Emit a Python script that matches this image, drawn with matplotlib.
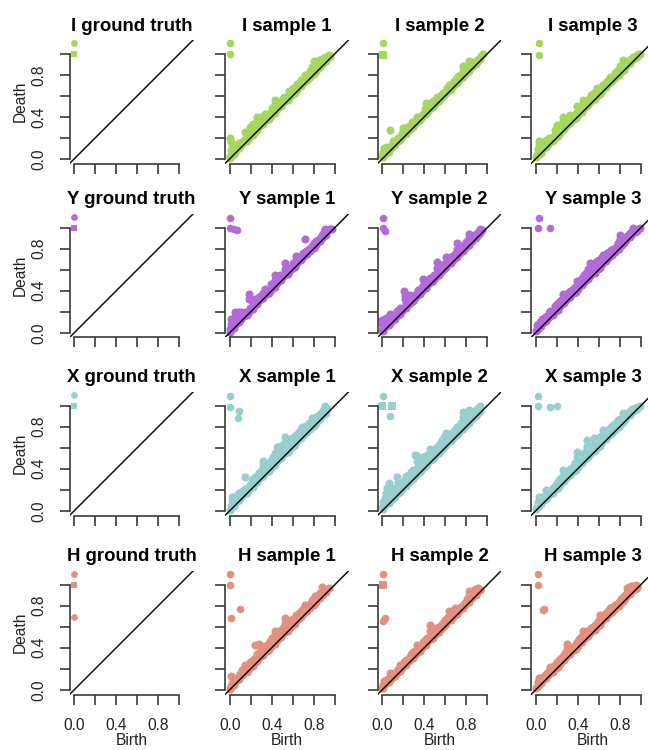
import matplotlib
matplotlib.use("Agg")
import matplotlib.pyplot as plt

plt.rcParams['font.family'] = ['Liberation Sans', 'DejaVu Sans']

# shapes (rows) and panel names (columns)
shapes = ['I', 'Y', 'X', 'H']
panels = ['ground truth', 'sample 1', 'sample 2', 'sample 3']
colors = ['#a6d65c', '#b46ad8', '#97cfcf', '#e3907f']

# ground truth diagrams: circles = essential class, squares = loop
gt_circ = {
    'I': [(0.00, 1.10)],
    'Y': [(0.00, 1.10)],
    'X': [(0.00, 1.10)],
    'H': [(0.00, 1.10), (0.00, 0.69)],
}
gt_sq = {
    'I': [(0.00, 1.00)],
    'Y': [(0.00, 1.00)],
    'X': [(0.00, 1.00)],
    'H': [(0.00, 1.00)],
}

# short-lived points hugging the diagonal (sample columns 1, 2, 3)
diag_1 = [(0.00, 0.01), (0.02, 0.04), (0.04, 0.05), (0.05, 0.07), (0.07, 0.09), (0.09, 0.10),
          (0.11, 0.13), (0.12, 0.15), (0.14, 0.16), (0.16, 0.17), (0.18, 0.20), (0.20, 0.23),
          (0.22, 0.23), (0.24, 0.26), (0.26, 0.27), (0.28, 0.31), (0.30, 0.32), (0.32, 0.33),
          (0.33, 0.36), (0.35, 0.37), (0.37, 0.38), (0.39, 0.41), (0.41, 0.44), (0.43, 0.44),
          (0.45, 0.47), (0.47, 0.49), (0.49, 0.50), (0.51, 0.54), (0.53, 0.55), (0.55, 0.56),
          (0.56, 0.58), (0.58, 0.61), (0.60, 0.62), (0.62, 0.63), (0.64, 0.66), (0.66, 0.69),
          (0.68, 0.69), (0.70, 0.72), (0.72, 0.74), (0.74, 0.75), (0.76, 0.78), (0.78, 0.81),
          (0.80, 0.81), (0.82, 0.84), (0.84, 0.86), (0.86, 0.87), (0.88, 0.90), (0.90, 0.92),
          (0.92, 0.93)]
diag_2 = [(0.01, 0.02), (0.02, 0.05), (0.04, 0.06), (0.06, 0.07), (0.08, 0.10), (0.10, 0.12),
          (0.12, 0.13), (0.13, 0.16), (0.15, 0.17), (0.17, 0.18), (0.19, 0.21), (0.21, 0.24),
          (0.23, 0.24), (0.25, 0.27), (0.27, 0.29), (0.29, 0.30), (0.31, 0.33), (0.32, 0.35),
          (0.34, 0.36), (0.36, 0.37), (0.38, 0.40), (0.40, 0.43), (0.42, 0.43), (0.44, 0.46),
          (0.46, 0.48), (0.48, 0.49), (0.50, 0.52), (0.52, 0.55), (0.54, 0.55), (0.56, 0.58),
          (0.58, 0.60), (0.59, 0.61), (0.61, 0.63), (0.63, 0.66), (0.65, 0.66), (0.67, 0.69),
          (0.69, 0.71), (0.71, 0.72), (0.73, 0.75), (0.75, 0.78), (0.77, 0.78), (0.79, 0.81),
          (0.81, 0.83), (0.83, 0.84), (0.85, 0.87), (0.87, 0.90), (0.89, 0.90), (0.91, 0.93),
          (0.93, 0.95)]
diag_3 = [(0.00, 0.02), (0.01, 0.03), (0.03, 0.05), (0.05, 0.06), (0.06, 0.09), (0.08, 0.10),
          (0.10, 0.11), (0.12, 0.14), (0.14, 0.16), (0.16, 0.17), (0.17, 0.20), (0.19, 0.21),
          (0.21, 0.22), (0.23, 0.25), (0.25, 0.28), (0.27, 0.28), (0.29, 0.31), (0.31, 0.33),
          (0.33, 0.34), (0.34, 0.37), (0.36, 0.38), (0.38, 0.39), (0.40, 0.42), (0.42, 0.45),
          (0.44, 0.45), (0.46, 0.48), (0.48, 0.50), (0.50, 0.51), (0.52, 0.54), (0.54, 0.57),
          (0.56, 0.57), (0.57, 0.60), (0.59, 0.61), (0.61, 0.62), (0.63, 0.65), (0.65, 0.68),
          (0.67, 0.68), (0.69, 0.71), (0.71, 0.73), (0.73, 0.74), (0.75, 0.77), (0.77, 0.80),
          (0.79, 0.80), (0.80, 0.83), (0.82, 0.84), (0.84, 0.85), (0.86, 0.88), (0.88, 0.91),
          (0.90, 0.91), (0.92, 0.94), (0.94, 0.96), (0.96, 0.97)]

# sample diagrams, (birth, death)
i_s1_circ = [(0.00, 1.10), (0.00, 1.00)]
i_s1_sq = []
i_s1 = [(0.00, 0.03), (0.01, 0.08), (0.00, 0.20), (0.01, 0.16), (0.02, 0.14), (0.04, 0.12),
        (0.05, 0.08), (0.07, 0.10), (0.09, 0.15), (0.10, 0.12), (0.12, 0.16), (0.14, 0.18),
        (0.15, 0.26), (0.16, 0.21), (0.18, 0.24), (0.19, 0.30), (0.21, 0.27), (0.22, 0.33),
        (0.24, 0.29), (0.26, 0.40), (0.26, 0.36), (0.27, 0.35), (0.29, 0.33), (0.30, 0.40),
        (0.32, 0.37), (0.34, 0.43), (0.36, 0.40), (0.38, 0.44), (0.40, 0.48), (0.41, 0.45),
        (0.43, 0.56), (0.43, 0.52), (0.44, 0.50), (0.46, 0.52), (0.47, 0.50), (0.49, 0.55),
        (0.51, 0.57), (0.52, 0.59), (0.54, 0.57), (0.56, 0.65), (0.56, 0.61), (0.57, 0.61),
        (0.59, 0.64), (0.60, 0.67), (0.62, 0.66), (0.64, 0.71), (0.66, 0.70), (0.68, 0.75),
        (0.70, 0.74), (0.72, 0.80), (0.73, 0.77), (0.75, 0.80), (0.76, 0.84), (0.78, 0.87),
        (0.79, 0.83), (0.80, 0.93), (0.80, 0.89), (0.82, 0.88), (0.83, 0.86), (0.85, 0.94),
        (0.86, 0.90), (0.88, 0.95), (0.89, 0.92), (0.91, 0.97), (0.92, 0.95), (0.94, 0.99),
        (0.95, 0.97)]

i_s2_circ = [(0.01, 1.10)]
i_s2_sq = [(0.01, 0.99)]
i_s2 = [(0.00, 0.03), (0.01, 0.07), (0.02, 0.10), (0.03, 0.06), (0.05, 0.11), (0.07, 0.27),
        (0.08, 0.12), (0.10, 0.17), (0.11, 0.14), (0.13, 0.17), (0.15, 0.20), (0.17, 0.21),
        (0.19, 0.25), (0.20, 0.29), (0.22, 0.26), (0.24, 0.30), (0.26, 0.31), (0.28, 0.35),
        (0.30, 0.34), (0.33, 0.40), (0.35, 0.39), (0.37, 0.41), (0.39, 0.43), (0.41, 0.47),
        (0.42, 0.53), (0.42, 0.49), (0.44, 0.50), (0.46, 0.50), (0.48, 0.55), (0.50, 0.54),
        (0.52, 0.59), (0.54, 0.58), (0.56, 0.61), (0.58, 0.63), (0.60, 0.64), (0.62, 0.67),
        (0.64, 0.70), (0.66, 0.70), (0.68, 0.74), (0.71, 0.78), (0.72, 0.75), (0.74, 0.80),
        (0.77, 0.88), (0.77, 0.84), (0.78, 0.82), (0.80, 0.86), (0.83, 0.93), (0.84, 0.88),
        (0.86, 0.90), (0.88, 0.92), (0.90, 0.94), (0.92, 0.95), (0.94, 0.98), (0.96, 1.00)]

i_s3_circ = [(0.03, 1.10), (0.03, 0.99)]
i_s3_sq = []
i_s3 = [(0.01, 0.04), (0.02, 0.09), (0.03, 0.17), (0.03, 0.13), (0.04, 0.07), (0.06, 0.11),
        (0.08, 0.13), (0.10, 0.18), (0.11, 0.13), (0.13, 0.20), (0.15, 0.18), (0.17, 0.22),
        (0.18, 0.27), (0.20, 0.32), (0.20, 0.28), (0.22, 0.26), (0.24, 0.31), (0.26, 0.40),
        (0.26, 0.36), (0.27, 0.33), (0.29, 0.36), (0.31, 0.35), (0.33, 0.42), (0.35, 0.41),
        (0.37, 0.42), (0.39, 0.50), (0.39, 0.45), (0.41, 0.46), (0.43, 0.50), (0.45, 0.56),
        (0.45, 0.52), (0.47, 0.52), (0.49, 0.55), (0.51, 0.57), (0.53, 0.61), (0.55, 0.63),
        (0.58, 0.67), (0.60, 0.65), (0.62, 0.68), (0.64, 0.70), (0.66, 0.71), (0.68, 0.74),
        (0.71, 0.78), (0.73, 0.77), (0.75, 0.82), (0.77, 0.84), (0.80, 0.88), (0.81, 0.86),
        (0.83, 0.94), (0.83, 0.90), (0.85, 0.90), (0.87, 0.92), (0.89, 0.93), (0.91, 0.95),
        (0.93, 0.97), (0.95, 0.98), (0.97, 1.00), (0.99, 1.00)]

y_s1_circ = [(0.00, 1.09), (0.00, 1.00), (0.04, 0.99), (0.07, 0.98)]
y_s1_sq = []
y_s1 = [(0.00, 0.04), (0.01, 0.08), (0.01, 0.13), (0.03, 0.07), (0.05, 0.20), (0.06, 0.12),
        (0.06, 0.17), (0.08, 0.20), (0.09, 0.14), (0.11, 0.20), (0.12, 0.16), (0.15, 0.20),
        (0.16, 0.18), (0.18, 0.37), (0.18, 0.32), (0.19, 0.24), (0.21, 0.30), (0.23, 0.27),
        (0.24, 0.32), (0.26, 0.30), (0.28, 0.34), (0.30, 0.35), (0.32, 0.38), (0.34, 0.42),
        (0.35, 0.39), (0.37, 0.41), (0.39, 0.46), (0.41, 0.45), (0.43, 0.55), (0.43, 0.50),
        (0.44, 0.49), (0.46, 0.51), (0.48, 0.55), (0.50, 0.54), (0.53, 0.66), (0.53, 0.61),
        (0.54, 0.59), (0.56, 0.62), (0.58, 0.61), (0.60, 0.66), (0.63, 0.73), (0.63, 0.69),
        (0.64, 0.69), (0.66, 0.71), (0.68, 0.73), (0.70, 0.76), (0.72, 0.89), (0.73, 0.78),
        (0.75, 0.80), (0.78, 0.83), (0.80, 0.85), (0.82, 0.87), (0.84, 0.88), (0.86, 0.90),
        (0.88, 0.93), (0.90, 0.96), (0.91, 0.99), (0.93, 0.97), (0.95, 0.99), (0.97, 0.99)]

y_s2_circ = [(0.01, 1.09), (0.01, 1.00), (0.03, 0.97)]
y_s2_sq = []
y_s2 = [(0.00, 0.03), (0.00, 0.08), (0.00, 0.12), (0.02, 0.09), (0.04, 0.14), (0.05, 0.09),
        (0.07, 0.18), (0.08, 0.12), (0.10, 0.17), (0.12, 0.16), (0.14, 0.21), (0.15, 0.18),
        (0.17, 0.24), (0.19, 0.23), (0.21, 0.40), (0.22, 0.36), (0.22, 0.32), (0.23, 0.28),
        (0.25, 0.29), (0.26, 0.36), (0.28, 0.33), (0.30, 0.35), (0.32, 0.37), (0.34, 0.41),
        (0.36, 0.40), (0.38, 0.44), (0.39, 0.51), (0.40, 0.47), (0.41, 0.47), (0.43, 0.48),
        (0.45, 0.52), (0.47, 0.52), (0.49, 0.55), (0.52, 0.67), (0.52, 0.62), (0.53, 0.59),
        (0.55, 0.60), (0.57, 0.62), (0.59, 0.65), (0.61, 0.72), (0.62, 0.68), (0.63, 0.68),
        (0.65, 0.72), (0.67, 0.73), (0.69, 0.75), (0.71, 0.85), (0.71, 0.80), (0.72, 0.78),
        (0.74, 0.80), (0.76, 0.82), (0.78, 0.84), (0.80, 0.86), (0.83, 0.94), (0.83, 0.90),
        (0.84, 0.89), (0.86, 0.91), (0.88, 0.93), (0.90, 0.95), (0.93, 0.99), (0.95, 0.98)]

y_s3_circ = [(0.03, 1.09), (0.02, 1.00), (0.14, 1.00)]
y_s3_sq = []
y_s3 = [(0.01, 0.04), (0.01, 0.07), (0.03, 0.08), (0.04, 0.10), (0.06, 0.13), (0.07, 0.11),
        (0.09, 0.15), (0.11, 0.16), (0.13, 0.19), (0.14, 0.21), (0.16, 0.21), (0.18, 0.25),
        (0.20, 0.27), (0.22, 0.29), (0.24, 0.31), (0.26, 0.37), (0.27, 0.33), (0.29, 0.36),
        (0.31, 0.38), (0.33, 0.40), (0.35, 0.42), (0.37, 0.44), (0.39, 0.49), (0.40, 0.46),
        (0.42, 0.49), (0.44, 0.52), (0.46, 0.55), (0.48, 0.57), (0.50, 0.61), (0.52, 0.66),
        (0.52, 0.61), (0.54, 0.64), (0.56, 0.66), (0.58, 0.68), (0.60, 0.69), (0.62, 0.71),
        (0.64, 0.74), (0.66, 0.73), (0.68, 0.76), (0.70, 0.77), (0.72, 0.79), (0.74, 0.80),
        (0.76, 0.82), (0.78, 0.85), (0.80, 0.93), (0.80, 0.89), (0.81, 0.87), (0.83, 0.89),
        (0.85, 0.90), (0.87, 0.92), (0.89, 0.94), (0.91, 0.96), (0.93, 1.00), (0.95, 0.98),
        (0.97, 0.99), (0.99, 1.00)]

x_s1_circ = [(0.00, 1.09), (0.00, 0.99), (0.09, 0.95), (0.08, 0.88)]
x_s1_sq = []
x_s1 = [(0.01, 0.05), (0.02, 0.09), (0.02, 0.13), (0.04, 0.10), (0.06, 0.14), (0.08, 0.13),
        (0.09, 0.17), (0.11, 0.18), (0.13, 0.19), (0.15, 0.32), (0.15, 0.21), (0.17, 0.22),
        (0.19, 0.25), (0.21, 0.27), (0.22, 0.30), (0.24, 0.32), (0.26, 0.32), (0.28, 0.36),
        (0.30, 0.38), (0.32, 0.47), (0.32, 0.43), (0.33, 0.41), (0.35, 0.44), (0.37, 0.45),
        (0.39, 0.48), (0.41, 0.51), (0.43, 0.55), (0.45, 0.61), (0.45, 0.56), (0.47, 0.58),
        (0.49, 0.62), (0.51, 0.63), (0.53, 0.70), (0.53, 0.65), (0.55, 0.68), (0.57, 0.66),
        (0.59, 0.69), (0.61, 0.70), (0.63, 0.72), (0.65, 0.74), (0.67, 0.76), (0.69, 0.80),
        (0.71, 0.79), (0.73, 0.81), (0.75, 0.84), (0.78, 0.88), (0.80, 0.87), (0.82, 0.89),
        (0.84, 0.90), (0.86, 0.92), (0.88, 0.94), (0.90, 0.97), (0.91, 1.00), (0.93, 0.98)]

x_s2_circ = [(0.01, 1.09), (0.07, 0.90)]
x_s2_sq = [(0.00, 1.00), (0.09, 1.00)]
x_s2 = [(0.00, 0.04), (0.01, 0.08), (0.03, 0.12), (0.04, 0.17), (0.05, 0.22), (0.06, 0.26),
        (0.07, 0.15), (0.09, 0.20), (0.11, 0.22), (0.12, 0.17), (0.14, 0.32), (0.15, 0.22),
        (0.15, 0.27), (0.17, 0.25), (0.19, 0.27), (0.21, 0.28), (0.23, 0.33), (0.25, 0.34),
        (0.27, 0.37), (0.29, 0.39), (0.31, 0.53), (0.33, 0.52), (0.33, 0.47), (0.34, 0.42),
        (0.36, 0.45), (0.38, 0.46), (0.39, 0.51), (0.41, 0.50), (0.43, 0.53), (0.45, 0.59),
        (0.47, 0.56), (0.49, 0.58), (0.51, 0.60), (0.53, 0.62), (0.55, 0.64), (0.57, 0.67),
        (0.59, 0.70), (0.61, 0.74), (0.63, 0.72), (0.65, 0.73), (0.67, 0.75), (0.69, 0.77),
        (0.71, 0.80), (0.73, 0.81), (0.75, 0.84), (0.77, 0.94), (0.77, 0.89), (0.79, 0.93),
        (0.81, 0.89), (0.83, 0.96), (0.85, 0.92), (0.87, 0.93), (0.89, 0.96), (0.91, 0.98),
        (0.93, 1.00)]

x_s3_circ = [(0.02, 1.09), (0.02, 1.00), (0.14, 0.99), (0.20, 1.00)]
x_s3_sq = []
x_s3 = [(0.01, 0.04), (0.02, 0.08), (0.03, 0.13), (0.05, 0.09), (0.07, 0.13), (0.09, 0.14),
        (0.10, 0.20), (0.12, 0.17), (0.14, 0.19), (0.16, 0.22), (0.18, 0.24), (0.20, 0.26),
        (0.22, 0.29), (0.24, 0.31), (0.26, 0.39), (0.27, 0.34), (0.29, 0.36), (0.31, 0.38),
        (0.33, 0.40), (0.35, 0.42), (0.37, 0.45), (0.39, 0.56), (0.39, 0.51), (0.40, 0.48),
        (0.42, 0.50), (0.44, 0.53), (0.46, 0.55), (0.48, 0.57), (0.49, 0.67), (0.49, 0.62),
        (0.51, 0.60), (0.53, 0.62), (0.55, 0.69), (0.56, 0.65), (0.58, 0.67), (0.60, 0.69),
        (0.62, 0.71), (0.64, 0.77), (0.66, 0.74), (0.68, 0.76), (0.70, 0.78), (0.72, 0.80),
        (0.74, 0.82), (0.76, 0.84), (0.78, 0.86), (0.80, 0.87), (0.83, 0.93), (0.84, 0.90),
        (0.86, 0.91), (0.88, 0.93), (0.90, 0.95), (0.92, 0.97), (0.94, 0.98), (0.96, 0.99),
        (0.99, 1.00)]

h_s1_circ = [(0.00, 1.10), (0.00, 1.00), (0.01, 0.68), (0.10, 0.77)]
h_s1_sq = []
h_s1 = [(0.01, 0.04), (0.01, 0.13), (0.02, 0.06), (0.03, 0.11), (0.04, 0.07), (0.06, 0.09),
        (0.08, 0.12), (0.10, 0.15), (0.12, 0.19), (0.14, 0.20), (0.15, 0.24), (0.17, 0.22),
        (0.19, 0.26), (0.21, 0.27), (0.23, 0.29), (0.24, 0.43), (0.26, 0.34), (0.28, 0.44),
        (0.28, 0.35), (0.30, 0.38), (0.32, 0.40), (0.34, 0.42), (0.36, 0.44), (0.38, 0.46),
        (0.40, 0.49), (0.42, 0.51), (0.43, 0.56), (0.45, 0.54), (0.47, 0.55), (0.49, 0.57),
        (0.51, 0.59), (0.53, 0.68), (0.53, 0.64), (0.54, 0.62), (0.56, 0.63), (0.58, 0.66),
        (0.60, 0.67), (0.63, 0.71), (0.64, 0.70), (0.66, 0.73), (0.68, 0.75), (0.70, 0.77),
        (0.72, 0.81), (0.74, 0.80), (0.76, 0.82), (0.78, 0.85), (0.81, 0.89), (0.82, 0.87),
        (0.84, 0.90), (0.86, 0.92), (0.88, 0.98), (0.88, 0.94), (0.90, 0.95), (0.92, 0.96),
        (0.94, 0.97)]

h_s2_circ = [(0.01, 1.10), (0.03, 0.68), (0.01, 0.65)]
h_s2_sq = [(0.01, 1.00)]
h_s2 = [(0.00, 0.02), (0.01, 0.05), (0.02, 0.08), (0.04, 0.09), (0.06, 0.11), (0.07, 0.16),
        (0.09, 0.15), (0.11, 0.15), (0.13, 0.17), (0.15, 0.20), (0.17, 0.24), (0.19, 0.23),
        (0.21, 0.26), (0.23, 0.28), (0.25, 0.30), (0.27, 0.34), (0.29, 0.36), (0.31, 0.37),
        (0.33, 0.43), (0.35, 0.40), (0.37, 0.42), (0.39, 0.45), (0.41, 0.47), (0.43, 0.49),
        (0.45, 0.62), (0.45, 0.56), (0.47, 0.58), (0.49, 0.56), (0.51, 0.59), (0.52, 0.59),
        (0.54, 0.60), (0.56, 0.62), (0.58, 0.64), (0.60, 0.66), (0.62, 0.68), (0.64, 0.75),
        (0.64, 0.70), (0.66, 0.72), (0.68, 0.74), (0.69, 0.78), (0.71, 0.76), (0.73, 0.78),
        (0.75, 0.79), (0.77, 0.81), (0.79, 0.83), (0.81, 0.86), (0.83, 0.94), (0.83, 0.89),
        (0.85, 0.93), (0.87, 0.95), (0.89, 0.96), (0.91, 0.97), (0.93, 0.95)]

h_s3_circ = [(0.02, 1.10), (0.02, 1.00), (0.07, 0.76), (0.08, 0.77)]
h_s3_sq = []
h_s3 = [(0.01, 0.03), (0.02, 0.07), (0.03, 0.11), (0.05, 0.10), (0.07, 0.12), (0.09, 0.14),
        (0.11, 0.16), (0.13, 0.18), (0.14, 0.22), (0.16, 0.22), (0.18, 0.24), (0.20, 0.26),
        (0.22, 0.28), (0.24, 0.30), (0.26, 0.32), (0.28, 0.35), (0.30, 0.44), (0.30, 0.39),
        (0.31, 0.40), (0.33, 0.39), (0.35, 0.41), (0.37, 0.43), (0.39, 0.45), (0.41, 0.48),
        (0.43, 0.50), (0.45, 0.56), (0.47, 0.54), (0.49, 0.56), (0.51, 0.57), (0.53, 0.59),
        (0.55, 0.61), (0.57, 0.63), (0.59, 0.65), (0.61, 0.71), (0.63, 0.70), (0.65, 0.71),
        (0.67, 0.73), (0.69, 0.75), (0.71, 0.78), (0.73, 0.79), (0.75, 0.81), (0.77, 0.82),
        (0.79, 0.84), (0.81, 0.86), (0.83, 0.88), (0.85, 0.90), (0.87, 0.97), (0.87, 0.92),
        (0.89, 0.98), (0.91, 0.99), (0.93, 0.99), (0.95, 1.00), (0.96, 0.99)]

samples = {
    'I': [(i_s1, i_s1_circ, i_s1_sq), (i_s2, i_s2_circ, i_s2_sq), (i_s3, i_s3_circ, i_s3_sq)],
    'Y': [(y_s1, y_s1_circ, y_s1_sq), (y_s2, y_s2_circ, y_s2_sq), (y_s3, y_s3_circ, y_s3_sq)],
    'X': [(x_s1, x_s1_circ, x_s1_sq), (x_s2, x_s2_circ, x_s2_sq), (x_s3, x_s3_circ, x_s3_sq)],
    'H': [(h_s1, h_s1_circ, h_s1_sq), (h_s2, h_s2_circ, h_s2_sq), (h_s3, h_s3_circ, h_s3_sq)],
}
diags = [diag_1, diag_2, diag_3]

# panel placement in pixels (R-like mfrow layout)
W, H = 648, 750
col_left = [69.5, 225, 377.5, 531]
row_bottom = [163.6, 337.5, 515.5, 694.5]
size = 124
lim = (-0.045, 1.135)
axis_col = '#3a3a3a'


def scatter_pts(ax, pts, marker, color, s=30):
    if not pts:
        return
    bx = [p[0] for p in pts]
    dy = [p[1] for p in pts]
    ax.scatter(bx, dy, s=s, marker=marker, color=color, linewidths=0, zorder=2)


fig = plt.figure(figsize=(W / 100, H / 100), dpi=100)

for r, shape in enumerate(shapes):
    for c, pname in enumerate(panels):
        ax = fig.add_axes([col_left[c] / W, 1 - row_bottom[r] / H, size / W, size / H])
        ax.set_xlim(lim)
        ax.set_ylim(lim)
        col = colors[r]
        if c == 0:
            scatter_pts(ax, gt_circ[shape], 'o', col, s=24)
            scatter_pts(ax, gt_sq[shape], 's', col, s=22)
        else:
            cloud, circ, sq = samples[shape][c - 1]
            scatter_pts(ax, diags[c - 1], 'o', col, s=34)
            scatter_pts(ax, cloud, 'o', col, s=34)
            scatter_pts(ax, circ, 'o', col, s=30)
            scatter_pts(ax, sq, 's', col, s=26)
        ax.plot([-0.1, 1.3], [-0.1, 1.3], color='#111111', lw=1.1, zorder=3)
        ax.set_title(shape + ' ' + pname, fontsize=13.4, fontweight='bold', pad=6.5)

        for s in ['top', 'right']:
            ax.spines[s].set_visible(False)
        for s in ['left', 'bottom']:
            ax.spines[s].set_bounds(0, 1)
            ax.spines[s].set_color(axis_col)
            ax.spines[s].set_linewidth(1.2)
        ax.set_xticks([0, 0.2, 0.4, 0.6, 0.8, 1.0])
        ax.set_yticks([0, 0.2, 0.4, 0.6, 0.8, 1.0])
        ax.tick_params(direction='out', length=7, width=1.2, color=axis_col,
                       labelsize=11.2, labelcolor='#222222')
        ax.tick_params(axis='y', pad=10)
        ax.tick_params(axis='x', pad=10)
        if c == 0:
            ax.set_yticklabels(['0.0', '', '0.4', '', '0.8', ''], rotation=90, va='center')
            ax.text(-0.40, 0.5, 'Death', transform=ax.transAxes, rotation=90,
                    ha='center', va='center', fontsize=11.2, color='#222222')
        else:
            ax.set_yticklabels([])
        if r == len(shapes) - 1:
            ax.set_xticklabels(['0.0', '', '0.4', '', '0.8', ''])
            ax.text(0.5, -0.367, 'Birth', transform=ax.transAxes,
                    ha='center', va='center', fontsize=11.2, color='#222222')
        else:
            ax.set_xticklabels([])

fig.savefig('out.png', dpi=100)
